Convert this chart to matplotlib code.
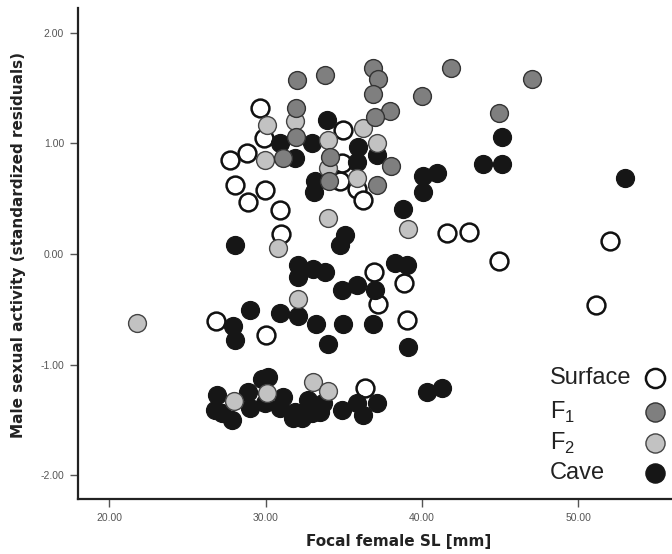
import matplotlib
matplotlib.use("Agg")
import matplotlib.pyplot as plt

plt.rcParams['font.family'] = ['Liberation Sans', 'DejaVu Sans']
plt.rcParams['mathtext.fontset'] = 'custom'
plt.rcParams['mathtext.rm'] = 'Liberation Sans'

# ---- data (Focal female SL [mm], standardized residuals) ----
surface_x = [26.81, 30.01, 27.71, 28.03, 28.86, 28.80, 29.63, 29.88, 29.95, 30.91,
             30.97, 34.94, 34.75, 35.83, 36.22, 36.92, 37.18, 38.84, 39.04, 36.35,
             41.59, 43.00, 44.92, 52.04, 51.13, 34.88]
surface_y = [-0.61, -0.73, 0.85, 0.62, 0.47, 0.91, 1.32, 1.05, 0.58, 0.40,
             0.18, 1.12, 0.66, 0.59, 0.49, -0.16, -0.45, -0.26, -0.60, -1.21,
             0.19, 0.20, -0.06, 0.12, -0.46, 0.82]

f1_x = [32.00, 33.79, 31.93, 31.93, 31.10, 36.86, 37.18, 36.86, 39.99, 41.85,
        47.03, 44.92, 37.95, 36.99, 38.01, 37.11, 34.11, 34.04]
f1_y = [1.57, 1.62, 1.32, 1.06, 0.87, 1.68, 1.58, 1.45, 1.43, 1.68,
        1.58, 1.28, 1.29, 1.24, 0.80, 0.62, 0.88, 0.66]

f2_x = [21.76, 27.97, 30.08, 32.06, 33.02, 33.98, 30.08, 31.87, 29.95, 33.98,
        33.98, 33.98, 30.78, 36.22, 37.11, 39.10, 35.83]
f2_y = [-0.62, -1.33, -1.26, -0.41, -1.16, -1.24, 1.17, 1.20, 0.85, 1.03,
        0.78, 0.33, 0.05, 1.14, 1.00, 0.23, 0.69]

cave_x = [28.03, 33.92, 30.91, 32.96, 31.87, 33.15, 35.90, 35.83, 37.11, 45.11,
          43.89, 45.11, 40.95, 40.06, 40.06, 38.78, 52.98, 35.07, 34.75, 33.10,
          32.06, 32.06, 33.02, 33.79, 28.99, 30.91, 32.06, 33.21, 27.90, 28.03,
          33.98, 34.88, 35.83, 36.99, 38.27, 39.04, 34.94, 36.86, 39.10,
          26.88, 26.75, 27.20, 27.84, 28.86, 28.99, 30.14, 29.95, 31.10, 30.91,
          31.87, 31.74, 32.70, 32.96, 33.66, 32.32, 33.47, 34.88, 35.83, 36.22,
          37.11, 40.31, 41.27, 29.76]
cave_y = [0.08, 1.21, 1.00, 1.00, 0.87, 0.66, 0.97, 0.83, 0.90, 1.06,
          0.81, 0.81, 0.73, 0.71, 0.56, 0.41, 0.69, 0.17, 0.08, 0.56,
          -0.10, -0.21, -0.14, -0.16, -0.51, -0.53, -0.56, -0.63, -0.65, -0.78,
          -0.81, -0.33, -0.28, -0.33, -0.08, -0.10, -0.63, -0.63, -0.84,
          -1.28, -1.41, -1.44, -1.50, -1.25, -1.39, -1.11, -1.35, -1.29, -1.39,
          -1.43, -1.48, -1.32, -1.44, -1.35, -1.48, -1.43, -1.41, -1.35, -1.46,
          -1.35, -1.25, -1.21, -1.13]

legend_labels = ["Surface", "F$_1$", "F$_2$", "Cave"]
x_ticks = [20, 30, 40, 50]
y_ticks = [-2, -1, 0, 1, 2]

# ---- styles ----
styles = {
    "Surface": dict(c="white", edgecolors="#111111", linewidths=1.8),
    "F1": dict(c="#7f7f7f", edgecolors="#333333", linewidths=1.0),
    "F2": dict(c="#c2c2c2", edgecolors="#444444", linewidths=1.0),
    "Cave": dict(c="#161616", edgecolors="#161616", linewidths=1.0),
}
S = 165

fig = plt.figure(figsize=(6.72, 5.54), dpi=100)
ax = fig.add_axes([78 / 672, 55 / 554, 594 / 672, 491 / 554])

ax.scatter(surface_x, surface_y, s=S, zorder=2, **styles["Surface"])
ax.scatter(cave_x, cave_y, s=S, zorder=3, **styles["Cave"])
ax.scatter(f2_x, f2_y, s=S, zorder=4, **styles["F2"])
ax.scatter(f1_x, f1_y, s=S, zorder=5, **styles["F1"])

ax.set_xlim(17.985, 56.0)
ax.set_ylim(-2.217, 2.226)
ax.set_xticks(x_ticks)
ax.set_yticks(y_ticks)
ax.set_xticklabels([f"{v:.2f}" for v in x_ticks])
ax.set_yticklabels([f"{v:.2f}" for v in y_ticks])
ax.tick_params(axis="both", direction="out", length=6, width=1, color="#555555",
               labelsize=7.5, labelcolor="#555555", pad=4)

for side in ["top", "right"]:
    ax.spines[side].set_visible(False)
for side in ["left", "bottom"]:
    ax.spines[side].set_linewidth(1.6)
    ax.spines[side].set_color("#222222")

ax.set_xlabel("Focal female SL [mm]", fontsize=11, fontweight="bold",
              family="DejaVu Sans", color="#222222")
ax.set_ylabel("Male sexual activity (standardized residuals)", fontsize=11,
              fontweight="bold", family="DejaVu Sans", color="#222222")
ax.xaxis.set_label_coords(0.54, -0.072)
ax.yaxis.set_label_coords(-0.088, 0.517)

# manual legend (labels left-aligned, markers in a right column)
leg_rows_y = [0.246, 0.177, 0.114, 0.053]
leg_keys = ["Surface", "F1", "F2", "Cave"]
for lab, key, yy in zip(legend_labels, leg_keys, leg_rows_y):
    ax.text(0.795, yy, lab, transform=ax.transAxes, fontsize=17,
            va="center", ha="left", color="#222222")
    ax.scatter([0.971], [yy], s=S * 1.15, transform=ax.transAxes,
               clip_on=False, zorder=6, **styles[key])

fig.savefig("out.png", dpi=100)
